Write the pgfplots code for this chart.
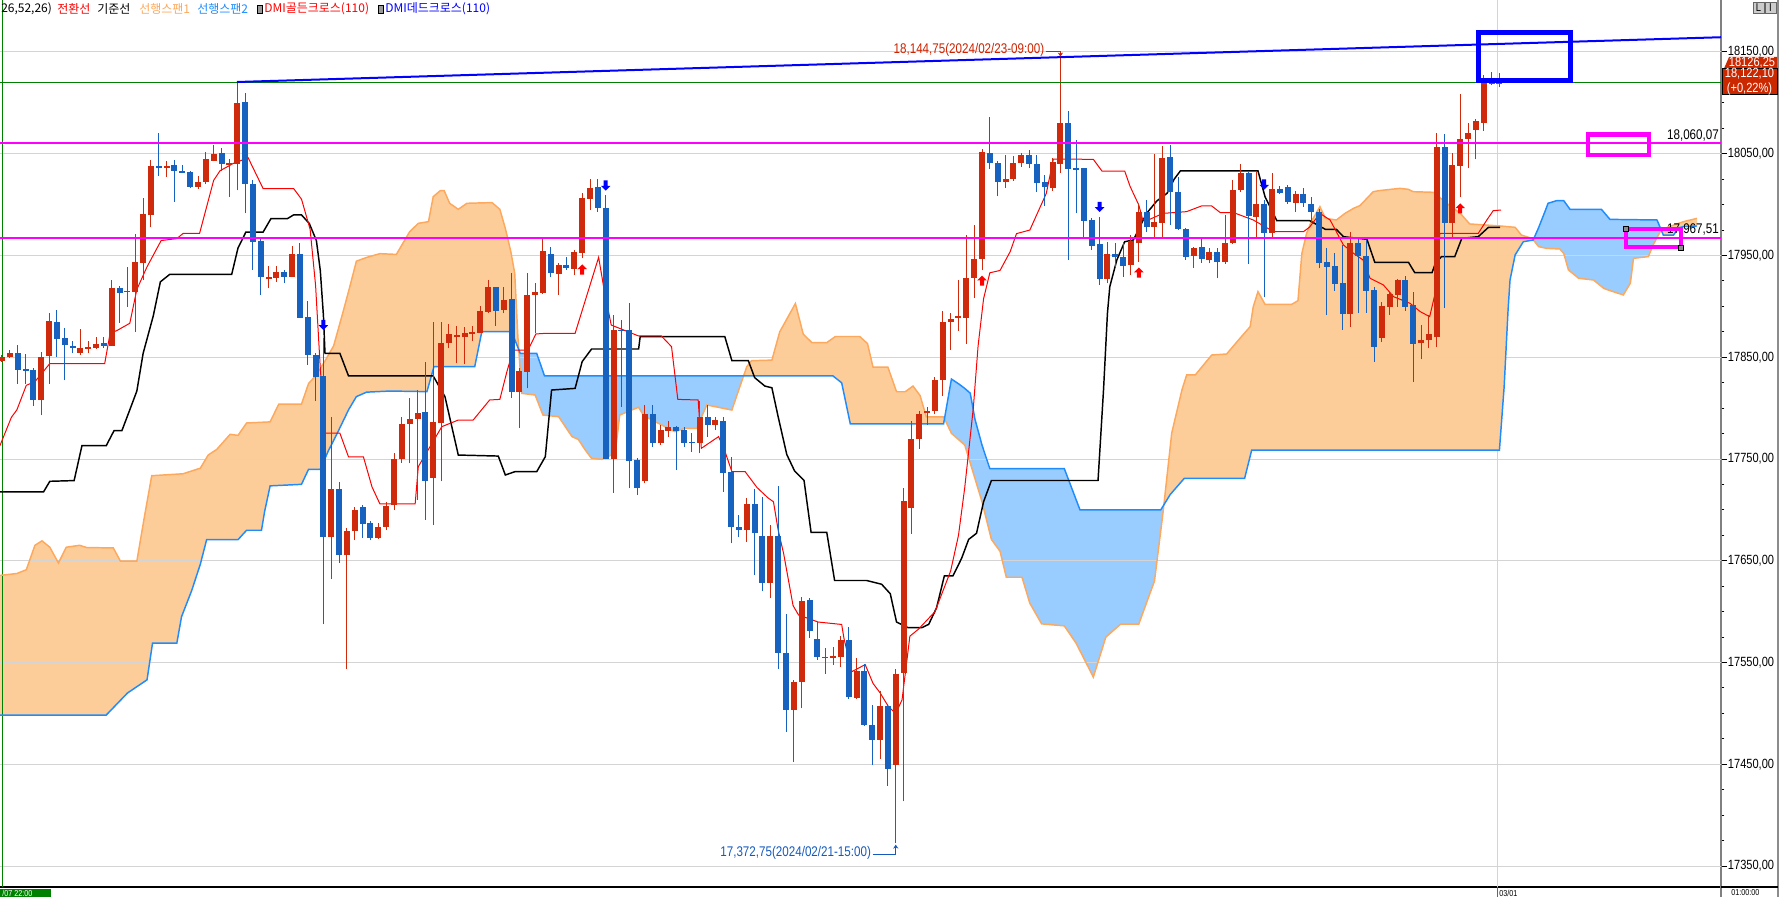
\documentclass[border=0pt]{standalone}
\usepackage{fontspec}
\setmainfont{Liberation Sans}
\newfontfamily\nf[FakeStretch=0.83]{Liberation Sans}
\newfontfamily\kr{Noto Sans CJK KR}
\usepackage{pgfplots}
\usepackage{pgfplotstable}
\usepgfplotslibrary{fillbetween}
\usetikzlibrary{arrows.meta}
\pgfplotsset{compat=1.18}

\definecolor{cR}{RGB}{208,42,12}
\definecolor{cB}{RGB}{22,98,190}
\definecolor{spA}{RGB}{253,168,92}
\definecolor{spAf}{RGB}{253,205,153}
\definecolor{spB}{RGB}{30,140,255}
\definecolor{spBf}{RGB}{153,204,255}
\definecolor{mag}{RGB}{255,0,255}
\definecolor{gridc}{RGB}{212,212,212}
\definecolor{dkgreen}{RGB}{0,128,0}
\definecolor{txtR}{RGB}{204,34,0}
\definecolor{txtB}{RGB}{20,90,190}
\definecolor{boxR}{RGB}{204,40,0}

\pgfdeclareplotmark{uparr}{%
  \pgfpathmoveto{\pgfqpoint{0pt}{4pt}}%
  \pgfpathlineto{\pgfqpoint{3.6pt}{0.4pt}}%
  \pgfpathlineto{\pgfqpoint{1.5pt}{0.4pt}}%
  \pgfpathlineto{\pgfqpoint{1.5pt}{-3.6pt}}%
  \pgfpathlineto{\pgfqpoint{-1.5pt}{-3.6pt}}%
  \pgfpathlineto{\pgfqpoint{-1.5pt}{0.4pt}}%
  \pgfpathlineto{\pgfqpoint{-3.6pt}{0.4pt}}%
  \pgfpathclose\pgfusepathqfill}
\pgfdeclareplotmark{dnarr}{%
  \pgfpathmoveto{\pgfqpoint{0pt}{-4pt}}%
  \pgfpathlineto{\pgfqpoint{3.6pt}{-0.4pt}}%
  \pgfpathlineto{\pgfqpoint{1.5pt}{-0.4pt}}%
  \pgfpathlineto{\pgfqpoint{1.5pt}{3.6pt}}%
  \pgfpathlineto{\pgfqpoint{-1.5pt}{3.6pt}}%
  \pgfpathlineto{\pgfqpoint{-1.5pt}{-0.4pt}}%
  \pgfpathlineto{\pgfqpoint{-3.6pt}{-0.4pt}}%
  \pgfpathclose\pgfusepathqfill}

\newcommand\PXY[2]{({(#1)*0.75pt},{(887-(#2))*0.75pt})}

\pgfplotstableread{
i o h l c
0 17846.4 17851.9 17845.7 17850.8
1 17850.1 17857.5 17849.4 17854.5
5 17808.3 17854.9 17792.8 17850.8
6 17850.8 17893.7 17824.2 17885.6
10 17853.8 17878.2 17852.7 17859.0
11 17858.2 17865.6 17853.8 17860.1
12 17859.3 17870.1 17858.2 17863.0
14 17861.2 17925.9 17861.2 17917.8
16 17914.6 17938.8 17899.6 17915.4
17 17914.4 17971.0 17875.2 17943.3
18 17942.9 18006.5 17925.9 17990.6
19 17990.2 18043.5 17977.7 18038.0
21 18035.7 18042.4 18027.6 18037.6
25 18017.2 18028.3 18015.8 18022.0
26 18022.0 18051.6 18020.2 18045.0
27 18043.1 18059.0 18042.4 18049.8
29 18039.4 18045.0 18007.3 18040.5
30 18039.8 18120.5 18013.9 18099.7
34 17927.8 17939.6 17917.8 17928.9
35 17928.5 17939.6 17924.0 17933.6
37 17928.5 17959.6 17928.5 17951.4
42 17673.7 17790.9 17631.9 17720.6
44 17655.9 17681.8 17543.2 17678.9
45 17678.9 17702.9 17670.7 17700.3
48 17672.6 17687.4 17671.8 17683.7
49 17683.0 17707.7 17680.0 17704.0
50 17705.0 17755.6 17700.0 17749.7
51 17749.7 17791.6 17746.4 17784.4
52 17784.4 17809.6 17745.7 17789.6
53 17789.0 17817.8 17709.7 17795.2
55 17731.0 17885.0 17685.0 17786.0
56 17785.7 17885.0 17728.0 17864.0
57 17863.7 17882.7 17858.8 17872.5
58 17870.5 17881.0 17844.0 17871.5
59 17870.2 17880.0 17843.4 17873.5
60 17873.5 17880.7 17866.3 17874.5
61 17873.8 17900.4 17873.8 17895.1
62 17894.8 17925.9 17893.1 17919.0
64 17896.4 17919.4 17893.1 17906.6
66 17816.2 17839.1 17780.8 17836.5
67 17835.8 17932.5 17819.5 17910.8
68 17910.8 17922.7 17873.5 17913.8
69 17913.1 17966.9 17912.2 17954.4
71 17932.2 17942.3 17911.2 17940.7
73 17936.7 17955.4 17930.8 17953.8
74 17952.8 18011.8 17947.2 18006.5
75 18005.9 18024.9 17994.7 18016.0
78 17749.7 17891.5 17716.9 17876.5
82 17728.7 17803.1 17726.1 17794.2
84 17766.1 17783.4 17763.8 17778.5
85 17777.9 17787.7 17772.0 17781.4
89 17766.1 17807.0 17755.6 17791.0
91 17783.4 17791.6 17778.5 17788.3
95 17680.2 17711.8 17668.6 17705.7
98 17627.8 17684.9 17613.0 17674.2
101 17503.0 17532.7 17452.0 17530.9
102 17530.4 17614.4 17504.9 17610.6
106 17554.1 17565.2 17548.0 17556.0
107 17555.0 17575.9 17545.7 17572.6
109 17515.6 17554.1 17514.2 17542.0
112 17473.8 17521.6 17455.3 17507.7
114 17449.2 17543.4 17372.75 17538.8
115 17540.2 17722.0 17413.5 17709.0
116 17702.0 17786.9 17676.5 17769.7
117 17769.7 17797.1 17760.0 17794.8
118 17795.5 17800.8 17783.2 17797.0
119 17797.1 17831.0 17793.8 17827.7
120 17827.7 17895.9 17812.4 17884.3
121 17884.3 17893.6 17857.4 17887.5
122 17888.5 17926.0 17875.9 17890.3
123 17888.5 17970.1 17863.4 17928.4
124 17928.4 17980.3 17908.4 17946.4
125 17946.4 18055.0 17935.3 18052.2
128 18022.5 18048.9 18016.5 18025.7
129 18025.7 18047.5 18023.4 18040.6
130 18040.6 18050.3 18037.3 18048.5
134 18016.7 18045.5 18013.7 18041.9
135 18039.9 18144.75 18031.4 18079.9
141 17926.9 17963.6 17922.7 17951.2
144 17940.7 17970.2 17930.8 17964.3
145 17962.6 18000.3 17944.0 17992.4
147 17978.3 18049.8 17968.5 17983.3
148 17982.3 18057.6 17968.5 18045.5
152 17949.5 17958.7 17938.0 17958.0
154 17946.2 17957.0 17942.3 17953.1
156 17943.3 17989.8 17941.7 17962.0
157 17962.0 18024.2 17961.3 18014.4
158 18014.4 18040.0 18012.7 18030.8
160 17987.5 18032.4 17965.9 18000.6
162 17971.8 18030.8 17968.5 18015.0
165 18001.3 18013.7 17993.1 18010.5
172 17892.5 17973.4 17880.1 17962.6
176 17869.3 17904.6 17865.3 17900.4
177 17899.7 17914.5 17891.5 17912.2
178 17911.2 17926.6 17899.7 17925.9
181 17864.3 17881.7 17848.0 17867.0
182 17867.0 17891.5 17858.8 17872.9
183 17870.2 18070.7 17860.4 18056.3
185 17982.3 18050.4 17968.5 18039.0
186 18038.0 18108.7 18007.2 18064.5
187 18064.2 18079.9 18035.7 18070.1
188 18073.3 18083.8 18044.5 18082.5
189 18080.6 18127.4 18072.7 18120.8
191 18118.2 18129.0 18115.3 18122.1
}\redc

\pgfplotstableread{
i o h l c
2 17854.5 17861.9 17823.5 17837.9
3 17838.6 17853.0 17823.5 17836.8
4 17837.9 17839.0 17802.0 17808.3
7 17884.5 17896.3 17850.1 17867.5
8 17869.0 17878.6 17827.2 17861.6
9 17860.8 17865.6 17853.8 17859.0
13 17863.8 17870.1 17859.3 17861.2
15 17918.1 17920.4 17884.1 17913.7
20 18037.6 18070.5 18028.3 18035.7
22 18038.7 18043.5 18002.8 18032.8
23 18033.2 18039.4 18030.6 18031.3
24 18032.0 18033.2 18016.5 18017.6
28 18050.9 18056.1 18033.2 18039.8
31 18100.8 18110.0 17991.4 18020.2
32 18020.2 18023.9 17935.9 17963.6
33 17964.7 17966.6 17911.1 17928.5
36 17934.0 17935.9 17923.3 17928.5
38 17951.4 17962.2 17888.9 17888.9
39 17889.7 17904.8 17842.7 17852.7
40 17852.7 17853.8 17807.2 17830.9
41 17831.6 17868.6 17587.5 17673.7
43 17720.6 17727.3 17647.8 17655.9
46 17702.9 17704.7 17672.6 17686.6
47 17687.4 17688.9 17670.0 17672.6
54 17795.9 17845.6 17690.0 17728.7
63 17919.0 17919.4 17881.0 17895.5
65 17907.2 17932.5 17810.3 17816.2
70 17951.5 17958.0 17928.5 17933.1
72 17940.7 17948.2 17935.8 17937.4
76 18017.0 18024.9 17993.1 17996.4
77 17997.0 18009.5 17749.7 17749.7
79 17877.0 17886.6 17801.4 17876.0
80 17876.5 17903.6 17721.2 17748.4
81 17749.0 17750.7 17714.6 17721.2
83 17794.2 17803.1 17762.1 17765.4
86 17781.4 17782.4 17739.2 17777.9
87 17778.5 17781.8 17762.1 17766.1
88 17766.6 17775.2 17757.2 17766.2
90 17791.0 17803.1 17772.0 17783.4
92 17787.0 17791.6 17717.9 17735.9
93 17736.8 17752.1 17667.2 17683.5
94 17683.0 17695.1 17673.3 17680.2
96 17705.7 17721.0 17636.2 17677.0
97 17674.2 17712.7 17619.9 17627.8
99 17674.2 17723.4 17543.4 17559.6
100 17559.6 17597.7 17481.7 17503.0
103 17611.6 17613.9 17574.5 17581.4
104 17573.1 17589.8 17552.7 17555.0
105 17555.9 17564.3 17538.8 17554.1
108 17572.6 17585.1 17514.2 17516.5
110 17542.0 17549.0 17487.7 17488.7
111 17488.7 17508.6 17449.2 17473.8
113 17507.7 17509.5 17428.8 17445.1
126 18051.3 18086.0 18035.0 18040.6
127 18040.6 18042.9 18008.1 18022.5
131 18048.5 18053.6 18035.7 18039.8
132 18039.9 18048.8 18012.7 18021.6
133 18022.6 18029.1 17999.0 18017.7
136 18079.9 18092.3 17945.6 18035.3
137 18035.7 18063.5 17991.5 18034.9
138 18035.7 18036.3 17968.5 17983.9
139 17984.9 17986.5 17955.4 17959.3
140 17961.3 17987.5 17921.0 17926.9
142 17951.2 17962.0 17938.4 17948.2
143 17948.2 17963.6 17929.2 17940.0
146 17992.4 18004.6 17973.4 17977.7
149 18046.5 18058.6 17980.0 18012.7
150 18012.7 18027.5 17975.0 17975.7
151 17975.7 17976.7 17945.6 17948.2
153 17958.0 17966.9 17943.0 17946.2
155 17953.1 17957.0 17927.6 17943.3
159 18030.8 18032.4 17941.7 17989.2
161 18000.6 18004.6 17908.9 17971.8
163 18015.0 18018.3 18010.4 18011.1
164 18017.7 18019.3 18000.6 18002.3
166 18010.5 18016.0 17998.0 18001.3
167 18000.6 18007.8 17982.3 17993.1
168 17993.1 17995.4 17937.4 17943.0
169 17944.0 17957.0 17891.5 17939.0
170 17939.7 17952.1 17915.4 17922.0
171 17922.7 17960.3 17876.8 17892.5
173 17962.6 17965.9 17893.1 17949.5
174 17949.5 17965.2 17893.8 17915.4
175 17916.1 17918.7 17845.7 17859.8
179 17925.9 17929.9 17895.8 17899.7
180 17901.4 17914.5 17826.0 17863.0
184 18056.3 18069.4 17898.1 17982.3
190 18120.8 18130.7 18117.2 18118.2
}\bluec

\begin{document}
\begin{tikzpicture}
\begin{axis}[
  at={(0pt,0pt)}, anchor=south west,
  width=1290.75pt, height=665.25pt, scale only axis,
  xmin=-0.255, xmax=219.26, ymin=17329.4, ymax=18201.1,
  axis x line*=bottom, axis y line*=right,
  x axis line style={black, line width=1.5pt, -},
  y axis line style={black!50, line width=1.5pt, -},
  xtick=\empty,
  ytick={17350,17450,17550,17650,17750,17850,17950,18050,18150},
  scaled y ticks=false,
  minor y tick num=3,
  tick align=outside,
  major tick length=4.5pt, minor tick length=2.5pt,
  every tick/.style={black, line width=0.75pt},
  yticklabel style={font=\nf\fontsize{10}{10}\selectfont, anchor=west, inner sep=0.5pt},
  clip mode=individual,
  /pgf/number format/fixed, /pgf/number format/fixed zerofill,
  /pgf/number format/precision=2, /pgf/number format/use comma,
  /pgf/number format/1000 sep={}, /pgf/number format/assume math mode=true,
]
% grid
\draw[gridc, line width=0.75pt]
  (axis cs:-0.255,17350) -- (axis cs:219.26,17350)
  (axis cs:-0.255,17450) -- (axis cs:219.26,17450)
  (axis cs:-0.255,17550) -- (axis cs:219.26,17550)
  (axis cs:-0.255,17650) -- (axis cs:219.26,17650)
  (axis cs:-0.255,17750) -- (axis cs:219.26,17750)
  (axis cs:-0.255,17850) -- (axis cs:219.26,17850)
  (axis cs:-0.255,17950) -- (axis cs:219.26,17950)
  (axis cs:-0.255,18050) -- (axis cs:219.26,18050)
  (axis cs:-0.255,18150) -- (axis cs:219.26,18150);
\draw[gridc, line width=0.75pt] (axis cs:190.8,17329.4) -- (axis cs:190.8,18201.1);
\draw[dkgreen, line width=0.75pt] (axis cs:0.04,17329.4) -- (axis cs:0.04,18201.1);

% Senkou span A
\addplot[name path=spanA, spA, line width=1.1pt] coordinates {
(-0.26,17635.6) (1.9,17637.5) (3.1,17641.2) (4.2,17665.2) (5.1,17669.6) (6.1,17663.3) (7.2,17647.8) (8.2,17663.3) (9.9,17665.2) (10.8,17663) (14.2,17662.6) (15.1,17649.7) (17.2,17649.7) (18.2,17694.8) (19.1,17733.6) (23.1,17735.5) (25.3,17741.0) (26.3,17753.9) (27.4,17759.5) (29.1,17774.3) (30.1,17773.2) (31.2,17785.4) (34.2,17786.5) (35.3,17803.9) (38.2,17803.9) (39.1,17824.2) (40.0,17831.6) (41.2,17846.4) (42.3,17861.2) (43.5,17894.5) (44.4,17920.4) (45.2,17944.4) (46.5,17948.1) (48.2,17951.8) (50.3,17951.1) (52.0,17973.4) (53.1,17981.6) (54.4,17983.3) (55.0,18007.8) (55.9,18013.7) (56.4,18013.7) (57.1,18001.3) (58.2,17995.4) (59.3,18001.3) (62.5,18002) (63.5,17995.4) (64.2,17976.7) (64.9,17953.8) (65.4,17932.5) (65.8,17870.2) (66.3,17814.5) (68.0,17812.9) (69.0,17793.2) (71.0,17791.6) (72.7,17772) (73.5,17769.3) (74.4,17758.8) (75.2,17750.6) (76.5,17749.7) (78.2,17755.6) (78.8,17793.2) (80.3,17798.1) (81.2,17800.8) (81.8,17793.2) (82.9,17788.3) (85.8,17776.9) (87.1,17780.1) (88.6,17780.1) (89.9,17803.1) (93.1,17798.1) (93.9,17816.2) (95.0,17840.8) (95.6,17846.6) (98.2,17847.2) (99.2,17875) (101.2,17902.8) (102.2,17872.7) (103.3,17864.4) (105.2,17864.4) (106.3,17870.4) (109.4,17870.4) (110.4,17863.4) (111.1,17840.2) (113.0,17840.2) (114.1,17816.1) (115.2,17816.1) (116.2,17821.7) (117.1,17812.4) (117.9,17791.5) (120.1,17791.5) (121.1,17775.3) (122.8,17763.7) (123.9,17735.9) (125.0,17708) (126.2,17671) (127.3,17659.3) (128.1,17633.8) (130.1,17633.8) (131.1,17608.3) (132.6,17588) (135.5,17586) (137,17569) (139.2,17535.7) (140.8,17575) (142.7,17587.8) (145,17587.8) (147,17630) (148.1,17698) (149.2,17775.6) (150.5,17817.8) (151.1,17832.6) (152.2,17832.6) (154.3,17852.2) (156.2,17853.2) (157.9,17868.6) (159.2,17880.1) (159.6,17899.7) (160.2,17914.5) (161.1,17902) (164.5,17902) (165.3,17905.6) (165.8,17952.1) (166.4,17971.8) (167.0,17983.3) (168.1,17998) (168.8,17986.5) (170.2,17984.9) (171.3,17991.4) (172.4,17996.4) (173.2,17999.0) (174.9,18012.7) (175.6,18013.7) (178.3,18016.0) (179.4,18015.0) (180.0,18012.7) (182.6,18012.1) (184.5,18000) (186.0,17991.5) (187.2,17981) (191.1,17979) (193,17977.7) (193.8,17970.1) (195.1,17966.9) (195.5,17963.6) (196,17958.7) (197,17957) (198.7,17956.4) (199.2,17952.1) (199.8,17935.8) (201.1,17927.6) (203,17925.9) (204.3,17917.7) (204.9,17916) (206.8,17911.2) (207.7,17922.7) (208.1,17947.2) (210,17948.9) (210.6,17960.3) (211.5,17973.4) (212.5,17978) (214.5,17983.3) (216.2,17986.5)
};
% Senkou span B
\addplot[name path=spanB, spB, line width=1.1pt] coordinates {
(-0.26,17498.4) (13.3,17498.4) (16,17520) (18.5,17533) (19.2,17569.0) (22.3,17569.0) (22.9,17595) (24.2,17620.8) (25.3,17646.7) (26.1,17670.7) (30.1,17670.7) (31.2,17680) (33.1,17680) (33.5,17698.5) (34.2,17723.6) (38.2,17725.1) (39.1,17739.9) (40.6,17739.9) (41.6,17757.6) (42.7,17774.3) (44.2,17798.3) (45.2,17811.3) (46.5,17815.7) (49.5,17816.8) (54.2,17816.2) (55.1,17840.8) (60.3,17840.8) (61.2,17875.1) (65.0,17875.1) (66.1,17853.9) (68.2,17853.9) (69.2,17831.6) (106.0,17831.6) (107.1,17824.9) (108.2,17784.6) (120.1,17784.6) (121.1,17828.6) (122.0,17824) (122.8,17819.4) (123.5,17814.7) (124.1,17789.2) (125.0,17763.7) (126.0,17740.5) (135.5,17740.5) (137.5,17700) (147.8,17700) (149,17715) (150.8,17731) (158.5,17731) (159.4,17758.8) (191,17758.8) (191.6,17821) (192.1,17896.4) (192.35,17925.9) (193.0,17950.5) (194.05,17963.6) (195.3,17965.2) (195.96,17976.7) (196.8,17993.1) (197.2,18001.3) (198.3,18003.9) (199.2,18003.9) (200.0,17995.4) (204.0,17995.4) (205.1,17985.5) (211.1,17984.9) (211.9,17970.1) (213.2,17970) (213.8,17977) (214.5,17978.5) (216.2,17979)
};
\addplot[spAf] fill between[of=spanA and spanB, soft clip={domain=-1:65.78}];
\addplot[spBf] fill between[of=spanA and spanB, soft clip={domain=65.78:94.6}];
\addplot[spAf] fill between[of=spanA and spanB, soft clip={domain=94.6:120.2}];
\addplot[spBf] fill between[of=spanA and spanB, soft clip={domain=120.2:148.15}];
\addplot[spAf] fill between[of=spanA and spanB, soft clip={domain=148.15:195.25}];
\addplot[spBf] fill between[of=spanA and spanB, soft clip={domain=195.25:211.6}];
\addplot[spAf] fill between[of=spanA and spanB, soft clip={domain=211.6:217}];

% Kijun (base line)
\addplot[black, line width=1.1pt] coordinates {
(-0.26,17717.7) (5.3,17717.7) (6.1,17728.1) (9.2,17728.8) (10.2,17763.2) (13.3,17763.2) (14.3,17778) (15.3,17778) (16.3,17798.3) (17.2,17816.8) (18.0,17853.8) (19.3,17890.8) (20.2,17924.1) (21.4,17931.5) (29.3,17931.5) (30.1,17957.3) (31.1,17972.9) (33.3,17972.9) (34.3,17986.2) (36.4,17986.2) (37.2,17989.9) (38.2,17989.9) (39.2,17981.4) (40.1,17964.7) (40.6,17935.2) (41.0,17890.8) (41.2,17853.8) (43.1,17853.8) (44.2,17831.6) (55.0,17831.6) (56.5,17811.3) (58.2,17753.9) (63.3,17752.9) (64.2,17734.3) (65.4,17737.5) (68.2,17737.5) (69.3,17752.3) (70.1,17817.8) (73.1,17819.4) (74.0,17845.7) (75.2,17858.1) (81.2,17858.1) (81.4,17870.2) (92.2,17870.2) (93.1,17846.6) (95.2,17846.6) (96.0,17830) (97.3,17821.7) (98.2,17820) (99.0,17791.5) (100.1,17754.4) (101.1,17738.2) (102.3,17728.9) (103.2,17677.9) (105.2,17677.9) (106.2,17630.6) (110.3,17630.6) (112.2,17626.9) (113.3,17617.6) (114.1,17589.8) (115.6,17584.2) (117.3,17584.2) (118.2,17587.5) (119.2,17603.7) (120.2,17635.2) (121.3,17635.2) (122.4,17652.4) (123.3,17671) (124.3,17677) (125.2,17708) (126.2,17728.9) (139.8,17728.9) (140.5,17817.8) (141.0,17893.2) (141.3,17919.4) (142.2,17945.6) (143.2,17963.6) (144.3,17965.2) (146.0,17991.5) (147.3,18003.6) (148.6,18011.1) (149.5,18024.9) (150.3,18033.1) (160.2,18033.1) (161.1,18007.8) (162.6,17984.2) (166.8,17984.2) (168.8,17975.7) (170.2,17975.7) (171.1,17968.5) (174.1,17965.9) (175.1,17943.3) (179.4,17943.3) (180.2,17933.1) (182.4,17933.1) (182.8,17941.6) (183.6,17948.9) (185.3,17948.9) (186.2,17966.9) (188.3,17968.5) (189.6,17977.7) (191.1,17977.7)
};
% Tenkan (conversion line)
\addplot[red, line width=0.75pt] coordinates {
(-0.26,17763.2) (1.2,17791) (1.9,17798.3) (3.1,17822.4) (4.2,17826) (6.1,17843.8) (13.1,17843.8) (13.8,17874.1) (14.6,17876) (16.3,17883.4) (17.2,17916.7) (18.5,17938.9) (20.3,17964.7) (22.3,17966.6) (23.1,17971.7) (25.2,17971.7) (27.0,18023.9) (27.8,18033.2) (29.5,18040.5) (31.4,18046) (33.3,18015.8) (37.2,18015.8) (38.2,18005.4) (39.3,17975.8) (40.0,17920.4) (40.6,17839) (41.2,17775.4) (43.1,17775.4) (44.2,17752.1) (46.1,17752.1) (47.2,17722.5) (48.2,17705.9) (52.7,17706) (53.1,17742.5) (56.1,17781.8) (58.2,17788.3) (60.1,17788.3) (62.2,17808.0) (63.5,17808.6) (64.4,17835.8) (65.2,17857.1) (67.1,17857.1) (68.1,17872.9) (69.3,17873.5) (73.1,17873.5) (76.1,17948.2) (76.7,17921) (77.7,17881.7) (81.2,17870.9) (84.1,17870.9) (85.4,17860.4) (86.2,17808.6) (88.8,17808) (89.2,17760.5) (91.4,17772) (92.1,17760) (93.1,17737.5) (94.8,17737.5) (96.3,17722) (97.7,17711.8) (98.4,17708) (99.0,17680.2) (99.7,17657) (100.9,17606) (101.6,17596.7) (104.1,17589.8) (107.1,17587.4) (107.4,17573.5) (108.4,17541) (110.1,17548) (111.1,17529.5) (112,17520.2) (113.1,17506.3) (114.0,17500) (114.8,17513.3) (115.8,17575.9) (116.9,17582.8) (119,17600) (121,17640) (122,17675) (122.8,17722) (123.9,17800.8) (124.5,17861.1) (125.2,17907.5) (126,17933) (127.3,17935.3) (128.6,17953.9) (129.4,17971.5) (131.1,17975) (133.2,18011) (134.1,18044.8) (139.2,18044.5) (140.3,18033) (143.2,18033) (143.9,18017.7) (145,17999.6) (145.5,17985) (146.2,17984.9) (148.1,17991.4) (151.1,17993.1) (153.0,17998.7) (154.3,17998.7) (155.4,17992.1) (157.1,17992.1) (159.6,17984.9) (162.2,17973.4) (166.0,17973.4) (166.8,17978) (168.1,17991.4) (169.4,17984.9) (171.1,17960.3) (172.4,17952.1) (173.6,17945.6) (174.5,17927.6) (176.2,17921) (177.5,17909.5) (179.6,17903) (180.9,17894.8) (182.1,17889.9) (182.8,17912.8) (183.4,17971.8) (188.3,17971.8) (189.4,17985) (190.2,17994) (191.2,17994.7)
};

% candles: wicks
\addplot[forget plot, draw=none, no markers, error bars/.cd, y dir=plus, y explicit, error mark=none,
  error bar style={line width=0.75pt, draw=cR}]
  table[x=i, y=l, y error expr=\thisrow{h}-\thisrow{l}] {\redc};
\addplot[forget plot, draw=none, no markers, error bars/.cd, y dir=plus, y explicit, error mark=none,
  error bar style={line width=0.75pt, draw=cB}]
  table[x=i, y=l, y error expr=\thisrow{h}-\thisrow{l}] {\bluec};
% candles: bodies
\addplot[forget plot, draw=none, no markers, error bars/.cd, y dir=both, y explicit, error mark=none,
  error bar style={line width=4.5pt, draw=cR}]
  table[x=i, y expr=(\thisrow{o}+\thisrow{c})/2, y error expr={max(abs(\thisrow{c}-\thisrow{o})/2,0.7)}] {\redc};
\addplot[forget plot, draw=none, no markers, error bars/.cd, y dir=both, y explicit, error mark=none,
  error bar style={line width=4.5pt, draw=cB}]
  table[x=i, y expr=(\thisrow{o}+\thisrow{c})/2, y error expr={max(abs(\thisrow{c}-\thisrow{o})/2,0.7)}] {\bluec};

% DMI arrows
\addplot[only marks, mark=dnarr, color=blue, fill=blue] coordinates {(41,17882) (77,18019) (140,17998) (161,18020)};
\addplot[only marks, mark=uparr, color=red, fill=red] coordinates {(74,17936) (125,17925) (145,17933) (186,17996)};

% horizontal lines
\addplot[dkgreen, line width=0.75pt] coordinates {(-0.255,18120.5) (219.26,18120.5)};
\addplot[mag, line width=1.5pt] coordinates {(-0.255,18060.07) (219.26,18060.07)};
\addplot[mag, line width=1.5pt] coordinates {(-0.255,17967.51) (219.26,17967.51)};
\addplot[blue, line width=1.5pt] coordinates {(29.95,18120.5) (219.26,18164.5)};

% annotations
\node[anchor=east, inner sep=0.5pt, text=txtR, font=\nf\fontsize{10.5}{10.5}\selectfont] at (axis cs:133.05,18152) {18,144,75(2024/02/23-09:00)};
\draw[txtR, line width=0.75pt, -{Stealth[length=3pt,width=4pt]}] (axis cs:133.1,18150.5) -- (axis cs:135,18150.5) -- (axis cs:135,18145.5);
\node[anchor=east, inner sep=0.5pt, text=txtB, font=\nf\fontsize{10.5}{10.5}\selectfont] at (axis cs:110.95,17362.5) {17,372,75(2024/02/21-15:00)};
\draw[txtB, line width=0.75pt, -{Stealth[length=3pt,width=4pt]}] (axis cs:111.05,17361) -- (axis cs:114,17361) -- (axis cs:114,17371);
\node[anchor=south east, inner sep=0.5pt, font=\nf\fontsize{10.5}{10.5}\selectfont] at (axis cs:219.1,18061.8) {18,060,07};
\node[anchor=south east, inner sep=0.5pt, font=\nf\fontsize{10.5}{10.5}\selectfont] at (axis cs:219.1,17969.2) {17,967,51};

% boxes
\draw[mag, line width=3.2pt] (axis cs:202.3,18068.9) rectangle (axis cs:210.1,18049.0);
\draw[mag, line width=3pt] (axis cs:207.2,17975.7) rectangle (axis cs:214.2,17958.0);
\draw[blue, line width=3.75pt] (axis cs:188.3,18169.2) rectangle (axis cs:200.0,18122.3);
\end{axis}

% handles on the second magenta box
\filldraw[fill=black!45, draw=black, line width=0.5pt] \PXY{1623.5}{226.5} rectangle \PXY{1628.5}{231.5};
\filldraw[fill=black!45, draw=black, line width=0.5pt] \PXY{1678.5}{245.2} rectangle \PXY{1683.5}{250.2};

% legend row
\begin{scope}[every node/.style={anchor=west, inner sep=0pt, font=\kr\fontsize{9}{9}\selectfont}]
\node at \PXY{1}{9} {26,52,26)};
\node[text=red] at \PXY{57}{9} {전환선};
\node at \PXY{97}{9} {기준선};
\node[text=spA] at \PXY{139}{9} {선행스팬1};
\node[text=spB] at \PXY{197}{9} {선행스팬2};
\filldraw[fill=black!40, draw=black, line width=0.5pt] \PXY{257}{5} rectangle \PXY{262}{13};
\node[text=red] at \PXY{264}{9} {DMI골든크로스(110)};
\filldraw[fill=black!40, draw=black, line width=0.5pt] \PXY{378}{5} rectangle \PXY{383}{13};
\node[text=blue] at \PXY{385}{9} {DMI데드크로스(110)};
\end{scope}

% right side frame
\draw[black!50, line width=1.5pt] \PXY{1721}{880} -- \PXY{1721}{897};
\draw[black!45, line width=1.5pt] \PXY{1778}{0} -- \PXY{1778}{897};
\draw[black, line width=1.5pt] \PXY{1721}{887} -- \PXY{1778}{887};
% L I buttons
\filldraw[fill=black!20, draw=black!60, line width=0.5pt] \PXY{1753}{2} rectangle \PXY{1764}{13};
\filldraw[fill=black!20, draw=black!60, line width=0.5pt] \PXY{1765}{2} rectangle \PXY{1776}{13};
\node[inner sep=0pt, font=\nf\fontsize{8.5}{8.5}\selectfont] at \PXY{1758.5}{7.5} {L};
\node[inner sep=0pt, font=\nf\fontsize{8.5}{8.5}\selectfont] at \PXY{1770.5}{7.5} {I};
% price boxes
\fill[boxR] \PXY{1729}{57} -- \PXY{1777}{57} -- \PXY{1777}{68.5} -- \PXY{1724}{68.5} -- cycle;
\node[inner sep=0pt, text=white, font=\nf\fontsize{10}{10}\selectfont] at \PXY{1752}{62.8} {18126,25};
\filldraw[fill=boxR, draw=black, line width=0.75pt] \PXY{1722}{68.5} rectangle \PXY{1777}{95};
\node[inner sep=0pt, text=white, align=center, font=\nf\fontsize{10}{11.5}\selectfont] at \PXY{1749.5}{81.8} {18,122,10\\(+0,22\%)};
% bottom date labels (small enough to fit the strip under the axis)
\fill[dkgreen] \PXY{0}{888.5} rectangle \PXY{51}{897};
\node[anchor=north west, inner sep=0pt, text=white, font=\nf\fontsize{6.5}{6.5}\selectfont] at \PXY{2}{889.5} {/07 22:00};
\draw[black!60, line width=0.75pt] \PXY{1497.5}{887} -- \PXY{1497.5}{897};
\node[anchor=north west, inner sep=0pt, font=\nf\fontsize{6.5}{6.5}\selectfont] at \PXY{1499}{889.5} {03/01};
\node[anchor=north west, inner sep=0pt, font=\nf\fontsize{6.5}{6.5}\selectfont] at \PXY{1731}{889.5} {01:00:00};

\pgfresetboundingbox
\path[use as bounding box] \PXY{0}{0} rectangle \PXY{1785}{897};
\end{tikzpicture}
\end{document}
